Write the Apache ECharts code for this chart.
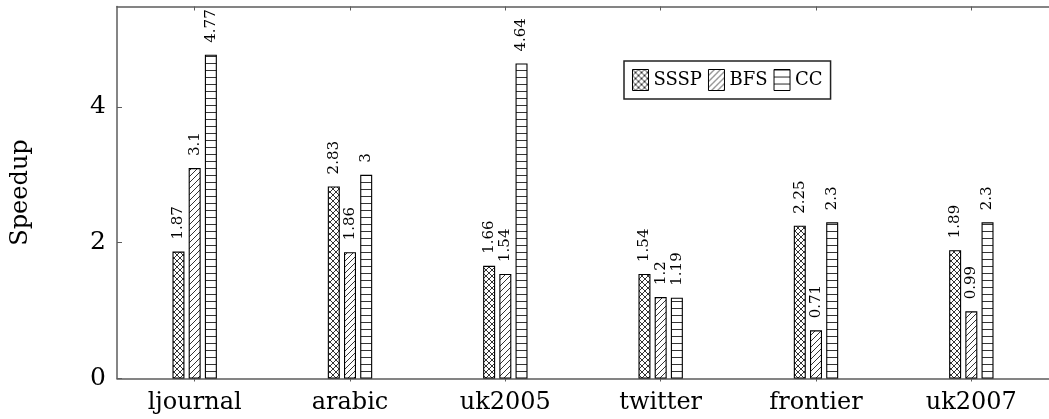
<!DOCTYPE html>
<html>
<head>
<meta charset="utf-8">
<script src="https://cdn.jsdelivr.net/npm/echarts@6/dist/echarts.min.js"></script>
<style>
html,body{margin:0;padding:0;background:#fff;}
#chart{width:1049px;height:419px;}
</style>
</head>
<body>
<div id="chart"></div>
<script>
const categories = ['ljournal', 'arabic', 'uk2005', 'twitter', 'frontier', 'uk2007'];
const seriesNames = ['SSSP', 'BFS', 'CC'];
const ssspValues = [1.87, 2.83, 1.66, 1.54, 2.25, 1.89];
const bfsValues = [3.1, 1.86, 1.54, 1.2, 0.71, 0.99];
const ccValues = [4.77, 3, 4.64, 1.19, 2.3, 2.3];
const yTicks = [0, 2, 4];

function makeTile(w, h, draw) {
  const c = document.createElement('canvas');
  c.width = w; c.height = h;
  const ctx = c.getContext('2d');
  ctx.fillStyle = '#fff';
  ctx.fillRect(0, 0, w, h);
  ctx.strokeStyle = '#000';
  ctx.lineWidth = 0.8;
  draw(ctx, w, h);
  return c;
}
const crossTile = makeTile(6, 6, (ctx, w, h) => {
  ctx.beginPath();
  for (let k = -1; k <= 1; k++) {
    ctx.moveTo(-1 + k * w, -1); ctx.lineTo(w + 1 + k * w, h + 1);
    ctx.moveTo(-1 + k * w, h + 1); ctx.lineTo(w + 1 + k * w, -1);
  }
  ctx.stroke();
});
const diagTile = makeTile(6, 6, (ctx, w, h) => {
  ctx.beginPath();
  for (let k = -1; k <= 1; k++) {
    ctx.moveTo(-1 + k * w, h + 1); ctx.lineTo(w + 1 + k * w, -1);
  }
  ctx.stroke();
});
const horizTile = makeTile(12, 7, (ctx, w, h) => {
  ctx.beginPath();
  ctx.moveTo(0, 0.5); ctx.lineTo(w, 0.5);
  ctx.stroke();
});
const patterns = [crossTile, diagTile, horizTile];
const valuesList = [ssspValues, bfsValues, ccValues];

const font = 'DejaVu Serif';
const axisColor = '#5c5c5c';

const chart = echarts.init(document.getElementById('chart'), null, {renderer: 'canvas'});
chart.setOption({
  animation: false,
  backgroundColor: '#fff',
  textStyle: {fontFamily: font, color: '#000'},
  grid: {left: 117, top: 6.5, width: 938, height: 372, containLabel: false},
  legend: {
    data: seriesNames,
    left: 624, top: 61,
    padding: [8, 8, 8, 8],
    itemWidth: 16, itemHeight: 21, itemGap: 6,
    icon: 'rect',
    borderColor: '#222', borderWidth: 1.5,
    textStyle: {fontFamily: font, fontSize: 18, color: '#000', padding: [0, 0, 0, 0]},
    itemStyle: {borderColor: '#000', borderWidth: 1}
  },
  xAxis: [{
    type: 'category',
    data: categories,
    axisLine: {lineStyle: {color: axisColor, width: 1.5}},
    axisTick: {show: true, alignWithLabel: true, length: 3, lineStyle: {color: axisColor}},
    axisLabel: {fontFamily: font, fontSize: 24, color: '#000', margin: 12}
  }, {
    type: 'category',
    position: 'top',
    data: categories,
    axisLine: {show: true, lineStyle: {color: axisColor, width: 1.5}},
    axisTick: {show: true, inside: true, alignWithLabel: true, length: 4, lineStyle: {color: axisColor}},
    axisLabel: {show: false}
  }],
  yAxis: {
    type: 'value',
    min: 0, max: 5.48, interval: 2,
    name: 'Speedup',
    nameLocation: 'middle',
    nameGap: 84,
    nameRotate: 90,
    nameTextStyle: {fontFamily: font, fontSize: 24, color: '#000'},
    axisLine: {show: true, lineStyle: {color: axisColor, width: 1.5}},
    axisTick: {show: true, inside: true, length: 5, lineStyle: {color: axisColor}},
    splitLine: {show: false},
    axisLabel: {
      fontFamily: font, fontSize: 25, color: '#000', margin: 11, showMaxLabel: false,
      formatter: v => (yTicks.indexOf(v) >= 0 ? String(v) : '')
    }
  },
  series: seriesNames.map((name, i) => ({
    name: name,
    type: 'bar',
    barWidth: 12,
    barGap: '35%',
    data: valuesList[i],
    itemStyle: {
      color: {image: patterns[i], repeat: 'repeat'},
      borderColor: '#000',
      borderWidth: 1.1
    },
    label: {
      show: true,
      position: 'top',
      rotate: 90,
      align: 'left',
      verticalAlign: 'middle',
      distance: 12,
      fontFamily: font,
      fontSize: 15,
      color: '#000'
    }
  }))
});
</script>
</body>
</html>
